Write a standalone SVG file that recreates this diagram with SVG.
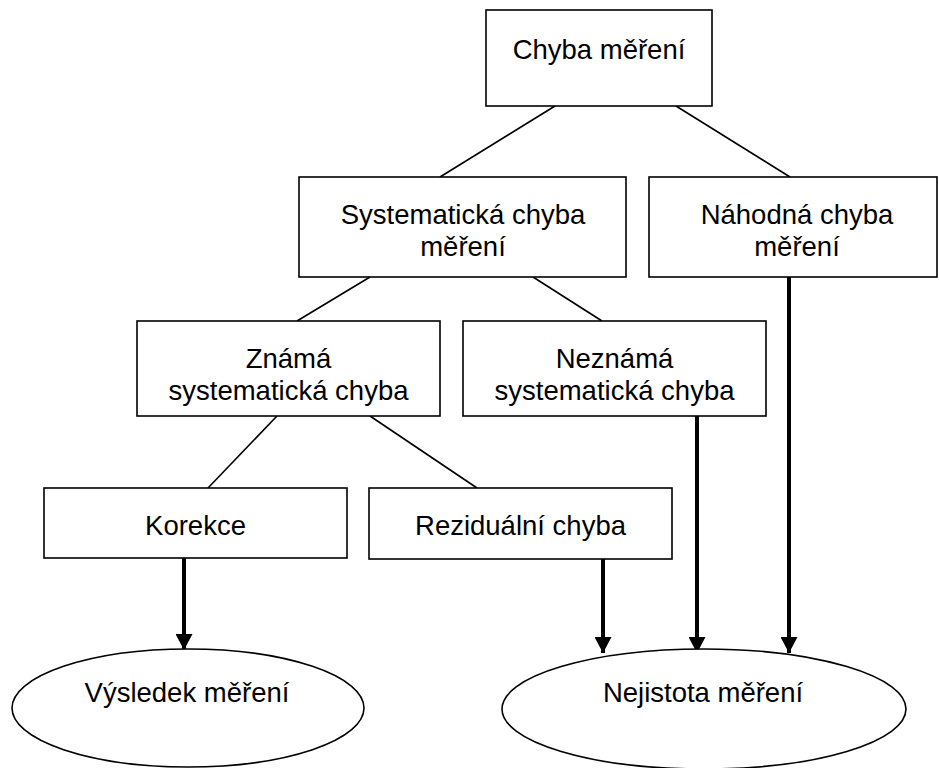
<svg xmlns="http://www.w3.org/2000/svg" width="939" height="768" viewBox="0 0 939 768">
<style>
.box{fill:#fff;stroke:#000;stroke-width:1.6}
.ell{fill:#fff;stroke:#000;stroke-width:1.6}
.t{font-family:"Liberation Sans",Arial,sans-serif;font-size:27.5px;fill:#000;text-anchor:middle}
.thin{stroke:#000;stroke-width:1.6;fill:none}
.thick{stroke:#000;stroke-width:4;fill:none}
</style>
<defs>
<marker id="ah" markerUnits="userSpaceOnUse" markerWidth="18" markerHeight="17" refX="16" refY="8.5" orient="auto">
<path d="M0,0 L16,8.5 L0,17 Z" fill="#000"/>
</marker>
</defs>
<rect width="939" height="768" fill="#fff"/>
<g id="connectors">
<line class="thin" x1="555" y1="106" x2="440" y2="177"/>
<line class="thin" x1="676" y1="106" x2="790" y2="177"/>
<line class="thin" x1="370" y1="277" x2="297" y2="321"/>
<line class="thin" x1="533" y1="277" x2="602" y2="321"/>
<line class="thin" x1="277" y1="416" x2="208" y2="488"/>
<line class="thin" x1="370" y1="416" x2="477" y2="488"/>
<line class="thick" x1="184" y1="558" x2="184" y2="650" marker-end="url(#ah)"/>
<line class="thick" x1="603" y1="559" x2="603" y2="653" marker-end="url(#ah)"/>
<line class="thick" x1="697" y1="416" x2="697" y2="653" marker-end="url(#ah)"/>
<line class="thick" x1="789" y1="277" x2="789" y2="653" marker-end="url(#ah)"/>
</g>
<g id="chyba">
<rect class="box" x="486" y="10" width="226" height="96"/>
<text class="t" x="599" y="59">Chyba měření</text>
</g>
<g id="systematicka">
<rect class="box" x="299" y="177" width="327" height="100"/>
<text class="t" x="463" y="224">Systematická chyba</text>
<text class="t" x="463" y="256">měření</text>
</g>
<g id="nahodna">
<rect class="box" x="649" y="177" width="288" height="100"/>
<text class="t" x="797" y="224">Náhodná chyba</text>
<text class="t" x="797" y="256">měření</text>
</g>
<g id="znama">
<rect class="box" x="137" y="321" width="303" height="95"/>
<text class="t" x="288.5" y="368">Známá</text>
<text class="t" x="288.5" y="400">systematická chyba</text>
</g>
<g id="neznama">
<rect class="box" x="463" y="321" width="303" height="95"/>
<text class="t" x="614.5" y="368">Neznámá</text>
<text class="t" x="614.5" y="400">systematická chyba</text>
</g>
<g id="korekce">
<rect class="box" x="44" y="488" width="303" height="70"/>
<text class="t" x="195.5" y="535">Korekce</text>
</g>
<g id="rezidualni">
<rect class="box" x="369" y="488" width="303" height="71"/>
<text class="t" x="520.5" y="535">Reziduální chyba</text>
</g>
<g id="vysledek">
<ellipse class="ell" cx="188" cy="708" rx="176" ry="59"/>
<text class="t" x="187" y="702">Výsledek měření</text>
</g>
<g id="nejistota">
<ellipse class="ell" cx="704" cy="709" rx="202" ry="60"/>
<text class="t" x="703" y="702">Nejistota měření</text>
</g>
</svg>
